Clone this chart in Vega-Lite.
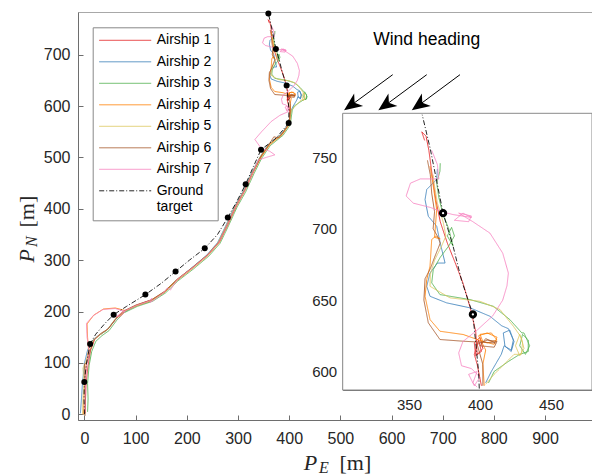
{
"$schema": "https://vega.github.io/schema/vega-lite/v6.json",
"width": 514, "height": 408,
"autosize": {"type": "none"},
"padding": {"left": 78, "top": 12, "right": 0, "bottom": 56},
"background": "white",
"config": {"view": {"stroke": "#a8a8a8", "strokeWidth": 1}, "font": "Liberation Sans"},
"datasets": {
"traj": [
{"s":"Airship 1","x":1,"y":2},{"s":"Airship 1","x":2,"y":30},{"s":"Airship 1","x":3,"y":60},{"s":"Airship 1","x":7,"y":95},{"s":"Airship 1","x":12,"y":125},{"s":"Airship 1","x":20,"y":146},{"s":"Airship 1","x":32,"y":156},{"s":"Airship 1","x":47,"y":167},{"s":"Airship 1","x":62,"y":186},{"s":"Airship 1","x":78,"y":201},{"s":"Airship 1","x":103,"y":213},{"s":"Airship 1","x":132,"y":223},{"s":"Airship 1","x":157,"y":239},{"s":"Airship 1","x":182,"y":262},{"s":"Airship 1","x":212,"y":286},{"s":"Airship 1","x":242,"y":311},{"s":"Airship 1","x":264,"y":336},{"s":"Airship 1","x":280,"y":369},{"s":"Airship 1","x":297,"y":406},{"s":"Airship 1","x":313,"y":436},{"s":"Airship 1","x":329,"y":471},{"s":"Airship 1","x":345,"y":501},{"s":"Airship 1","x":362,"y":526},{"s":"Airship 1","x":387,"y":546},{"s":"Airship 1","x":401,"y":566},{"s":"Airship 1","x":401,"y":590},{"s":"Airship 1","x":398,"y":605},{"s":"Airship 1","x":396,"y":612},{"s":"Airship 1","x":399,"y":622},{"s":"Airship 1","x":401,"y":614},{"s":"Airship 1","x":397,"y":611},{"s":"Airship 1","x":396,"y":620},{"s":"Airship 1","x":400,"y":624},{"s":"Airship 1","x":402,"y":616},{"s":"Airship 1","x":398,"y":612},{"s":"Airship 1","x":397,"y":628},{"s":"Airship 1","x":393,"y":645},{"s":"Airship 1","x":388,"y":662},{"s":"Airship 1","x":383,"y":675},{"s":"Airship 1","x":377,"y":690},{"s":"Airship 1","x":372,"y":705},{"s":"Airship 1","x":369,"y":720},{"s":"Airship 1","x":366,"y":740},{"s":"Airship 1","x":364,"y":755},{"s":"Airship 1","x":362,"y":765},{"s":"Airship 1","x":359,"y":768},{"s":"Airship 1","x":361,"y":762},
{"s":"Airship 2","x":-8,"y":2},{"s":"Airship 2","x":-6,"y":30},{"s":"Airship 2","x":-4,"y":60},{"s":"Airship 2","x":0,"y":100},{"s":"Airship 2","x":6,"y":125},{"s":"Airship 2","x":15,"y":143},{"s":"Airship 2","x":27,"y":153},{"s":"Airship 2","x":43,"y":163},{"s":"Airship 2","x":58,"y":182},{"s":"Airship 2","x":74,"y":197},{"s":"Airship 2","x":98,"y":210},{"s":"Airship 2","x":128,"y":220},{"s":"Airship 2","x":154,"y":236},{"s":"Airship 2","x":179,"y":260},{"s":"Airship 2","x":208,"y":284},{"s":"Airship 2","x":238,"y":309},{"s":"Airship 2","x":260,"y":334},{"s":"Airship 2","x":276,"y":367},{"s":"Airship 2","x":293,"y":404},{"s":"Airship 2","x":310,"y":434},{"s":"Airship 2","x":326,"y":469},{"s":"Airship 2","x":342,"y":499},{"s":"Airship 2","x":358,"y":524},{"s":"Airship 2","x":383,"y":544},{"s":"Airship 2","x":399,"y":565},{"s":"Airship 2","x":404,"y":592},{"s":"Airship 2","x":408,"y":600},{"s":"Airship 2","x":415,"y":612},{"s":"Airship 2","x":417,"y":618},{"s":"Airship 2","x":422,"y":615},{"s":"Airship 2","x":423.5,"y":622},{"s":"Airship 2","x":421,"y":629},{"s":"Airship 2","x":416.4,"y":627},{"s":"Airship 2","x":417.6,"y":617.7},{"s":"Airship 2","x":422,"y":614},{"s":"Airship 2","x":424,"y":621},{"s":"Airship 2","x":420,"y":630},{"s":"Airship 2","x":415.3,"y":632},{"s":"Airship 2","x":407,"y":638.7},{"s":"Airship 2","x":393,"y":644.6},{"s":"Airship 2","x":376.5,"y":648.1},{"s":"Airship 2","x":364.8,"y":652.7},{"s":"Airship 2","x":362.5,"y":659.7},{"s":"Airship 2","x":364.8,"y":669},{"s":"Airship 2","x":370,"y":676},{"s":"Airship 2","x":375.4,"y":676},{"s":"Airship 2","x":374.2,"y":681},{"s":"Airship 2","x":372,"y":690},{"s":"Airship 2","x":369.5,"y":701.8},{"s":"Airship 2","x":363.6,"y":708.8},{"s":"Airship 2","x":361.3,"y":720.5},{"s":"Airship 2","x":362.5,"y":727.6},{"s":"Airship 2","x":369.5,"y":734.6},{"s":"Airship 2","x":370,"y":742},
{"s":"Airship 3","x":6,"y":5},{"s":"Airship 3","x":7,"y":30},{"s":"Airship 3","x":6,"y":60},{"s":"Airship 3","x":9,"y":95},{"s":"Airship 3","x":14,"y":122},{"s":"Airship 3","x":22,"y":142},{"s":"Airship 3","x":34,"y":153},{"s":"Airship 3","x":48,"y":163},{"s":"Airship 3","x":63,"y":183},{"s":"Airship 3","x":78,"y":198},{"s":"Airship 3","x":103,"y":210},{"s":"Airship 3","x":133,"y":220},{"s":"Airship 3","x":158,"y":236},{"s":"Airship 3","x":183,"y":260},{"s":"Airship 3","x":213,"y":283},{"s":"Airship 3","x":243,"y":308},{"s":"Airship 3","x":265,"y":333},{"s":"Airship 3","x":281,"y":366},{"s":"Airship 3","x":298,"y":403},{"s":"Airship 3","x":315,"y":433},{"s":"Airship 3","x":331,"y":468},{"s":"Airship 3","x":346,"y":498},{"s":"Airship 3","x":363,"y":523},{"s":"Airship 3","x":388,"y":543},{"s":"Airship 3","x":402,"y":563},{"s":"Airship 3","x":406,"y":592},{"s":"Airship 3","x":410,"y":600},{"s":"Airship 3","x":420,"y":607},{"s":"Airship 3","x":428,"y":612},{"s":"Airship 3","x":434,"y":614},{"s":"Airship 3","x":434,"y":622},{"s":"Airship 3","x":430,"y":626},{"s":"Airship 3","x":428,"y":618},{"s":"Airship 3","x":432,"y":612},{"s":"Airship 3","x":435,"y":618},{"s":"Airship 3","x":431,"y":627},{"s":"Airship 3","x":429.4,"y":627.1},{"s":"Airship 3","x":421,"y":636.4},{"s":"Airship 3","x":409.4,"y":645.7},{"s":"Airship 3","x":393,"y":650.4},{"s":"Airship 3","x":371.8,"y":653.9},{"s":"Airship 3","x":366,"y":662.1},{"s":"Airship 3","x":367.1,"y":671.5},{"s":"Airship 3","x":372,"y":680},{"s":"Airship 3","x":378,"y":688},{"s":"Airship 3","x":382,"y":695},{"s":"Airship 3","x":380,"y":701},{"s":"Airship 3","x":377,"y":695},{"s":"Airship 3","x":381,"y":688},{"s":"Airship 3","x":378,"y":700},{"s":"Airship 3","x":374,"y":710},{"s":"Airship 3","x":371,"y":722},{"s":"Airship 3","x":369.5,"y":732.2},{"s":"Airship 3","x":371.8,"y":740.4},{"s":"Airship 3","x":372,"y":746},
{"s":"Airship 4","x":-2,"y":0},{"s":"Airship 4","x":-1,"y":30},{"s":"Airship 4","x":1,"y":60},{"s":"Airship 4","x":3,"y":95},{"s":"Airship 4","x":8,"y":125},{"s":"Airship 4","x":6,"y":150},{"s":"Airship 4","x":5,"y":176},{"s":"Airship 4","x":18,"y":193},{"s":"Airship 4","x":37,"y":205},{"s":"Airship 4","x":60,"y":207},{"s":"Airship 4","x":80,"y":202},{"s":"Airship 4","x":72,"y":193},{"s":"Airship 4","x":62,"y":188},{"s":"Airship 4","x":76,"y":200},{"s":"Airship 4","x":101,"y":211},{"s":"Airship 4","x":130,"y":221},{"s":"Airship 4","x":156,"y":237},{"s":"Airship 4","x":181,"y":261},{"s":"Airship 4","x":211,"y":284},{"s":"Airship 4","x":241,"y":309},{"s":"Airship 4","x":263,"y":334},{"s":"Airship 4","x":279,"y":367},{"s":"Airship 4","x":296,"y":404},{"s":"Airship 4","x":313,"y":434},{"s":"Airship 4","x":329,"y":469},{"s":"Airship 4","x":344,"y":499},{"s":"Airship 4","x":361,"y":524},{"s":"Airship 4","x":386,"y":544},{"s":"Airship 4","x":400,"y":564},{"s":"Airship 4","x":403,"y":590},{"s":"Airship 4","x":402,"y":605},{"s":"Airship 4","x":404,"y":615},{"s":"Airship 4","x":399,"y":625},{"s":"Airship 4","x":405,"y":627},{"s":"Airship 4","x":412,"y":624},{"s":"Airship 4","x":410,"y":619},{"s":"Airship 4","x":402,"y":621},{"s":"Airship 4","x":400,"y":626},{"s":"Airship 4","x":408,"y":627},{"s":"Airship 4","x":412,"y":622},{"s":"Airship 4","x":405,"y":620},{"s":"Airship 4","x":388.2,"y":625.9},{"s":"Airship 4","x":371.8,"y":628.2},{"s":"Airship 4","x":364.8,"y":636.4},{"s":"Airship 4","x":361.3,"y":652.7},{"s":"Airship 4","x":362.5,"y":664.4},{"s":"Airship 4","x":364.8,"y":673.8},{"s":"Airship 4","x":366,"y":692.5},{"s":"Airship 4","x":369,"y":695},{"s":"Airship 4","x":372,"y":693},{"s":"Airship 4","x":368,"y":694},{"s":"Airship 4","x":369.5,"y":713.5},{"s":"Airship 4","x":367.1,"y":729.9},{"s":"Airship 4","x":366,"y":736.9},{"s":"Airship 4","x":364.8,"y":743.9},
{"s":"Airship 5","x":-4,"y":0},{"s":"Airship 5","x":-3,"y":30},{"s":"Airship 5","x":-1,"y":60},{"s":"Airship 5","x":-3,"y":90},{"s":"Airship 5","x":2,"y":100},{"s":"Airship 5","x":9,"y":124},{"s":"Airship 5","x":17,"y":144},{"s":"Airship 5","x":29,"y":154},{"s":"Airship 5","x":44,"y":164},{"s":"Airship 5","x":59,"y":184},{"s":"Airship 5","x":74,"y":199},{"s":"Airship 5","x":99,"y":211},{"s":"Airship 5","x":129,"y":221},{"s":"Airship 5","x":154,"y":237},{"s":"Airship 5","x":179,"y":261},{"s":"Airship 5","x":209,"y":284},{"s":"Airship 5","x":239,"y":309},{"s":"Airship 5","x":261,"y":334},{"s":"Airship 5","x":277,"y":367},{"s":"Airship 5","x":294,"y":404},{"s":"Airship 5","x":311,"y":434},{"s":"Airship 5","x":327,"y":469},{"s":"Airship 5","x":342,"y":499},{"s":"Airship 5","x":359,"y":524},{"s":"Airship 5","x":384,"y":544},{"s":"Airship 5","x":399,"y":564},{"s":"Airship 5","x":404,"y":591},{"s":"Airship 5","x":410,"y":598},{"s":"Airship 5","x":418,"y":606},{"s":"Airship 5","x":424,"y":612},{"s":"Airship 5","x":429,"y":612},{"s":"Airship 5","x":430,"y":620},{"s":"Airship 5","x":428,"y":626},{"s":"Airship 5","x":425,"y":618},{"s":"Airship 5","x":428,"y":611},{"s":"Airship 5","x":431,"y":616},{"s":"Airship 5","x":429,"y":624},{"s":"Airship 5","x":423.5,"y":631.7},{"s":"Airship 5","x":414.1,"y":643.4},{"s":"Airship 5","x":400,"y":649.2},{"s":"Airship 5","x":378.9,"y":651.6},{"s":"Airship 5","x":364.8,"y":659.7},{"s":"Airship 5","x":365,"y":668},{"s":"Airship 5","x":368,"y":678},{"s":"Airship 5","x":373,"y":688},{"s":"Airship 5","x":376,"y":695},{"s":"Airship 5","x":374,"y":705},{"s":"Airship 5","x":370,"y":718},{"s":"Airship 5","x":368,"y":730},{"s":"Airship 5","x":367,"y":738},
{"s":"Airship 6","x":1,"y":-3},{"s":"Airship 6","x":2,"y":30},{"s":"Airship 6","x":1,"y":60},{"s":"Airship 6","x":0,"y":98},{"s":"Airship 6","x":5,"y":100},{"s":"Airship 6","x":11,"y":124},{"s":"Airship 6","x":19,"y":146},{"s":"Airship 6","x":31,"y":157},{"s":"Airship 6","x":46,"y":166},{"s":"Airship 6","x":61,"y":186},{"s":"Airship 6","x":76,"y":201},{"s":"Airship 6","x":101,"y":213},{"s":"Airship 6","x":131,"y":223},{"s":"Airship 6","x":156,"y":239},{"s":"Airship 6","x":181,"y":263},{"s":"Airship 6","x":211,"y":286},{"s":"Airship 6","x":241,"y":311},{"s":"Airship 6","x":263,"y":336},{"s":"Airship 6","x":279,"y":369},{"s":"Airship 6","x":296,"y":406},{"s":"Airship 6","x":313,"y":436},{"s":"Airship 6","x":329,"y":471},{"s":"Airship 6","x":344,"y":501},{"s":"Airship 6","x":361,"y":526},{"s":"Airship 6","x":370,"y":540},{"s":"Airship 6","x":380,"y":538},{"s":"Airship 6","x":386,"y":546},{"s":"Airship 6","x":400,"y":566},{"s":"Airship 6","x":402,"y":590},{"s":"Airship 6","x":402,"y":605},{"s":"Airship 6","x":398,"y":619},{"s":"Airship 6","x":405,"y":622},{"s":"Airship 6","x":412,"y":621},{"s":"Airship 6","x":410,"y":617},{"s":"Airship 6","x":400,"y":618},{"s":"Airship 6","x":404,"y":623},{"s":"Airship 6","x":411,"y":620},{"s":"Airship 6","x":388.2,"y":621.2},{"s":"Airship 6","x":371.8,"y":622.4},{"s":"Airship 6","x":363.6,"y":634.1},{"s":"Airship 6","x":360.5,"y":650},{"s":"Airship 6","x":361.3,"y":665},{"s":"Airship 6","x":365,"y":672},{"s":"Airship 6","x":368,"y":680},{"s":"Airship 6","x":372,"y":690},{"s":"Airship 6","x":370,"y":695},{"s":"Airship 6","x":367,"y":700},{"s":"Airship 6","x":368,"y":712},{"s":"Airship 6","x":366,"y":725},{"s":"Airship 6","x":365,"y":738},{"s":"Airship 6","x":363,"y":748},
{"s":"Airship 7","x":1,"y":5},{"s":"Airship 7","x":1,"y":30},{"s":"Airship 7","x":2,"y":60},{"s":"Airship 7","x":4,"y":95},{"s":"Airship 7","x":9,"y":125},{"s":"Airship 7","x":5,"y":150},{"s":"Airship 7","x":4,"y":177},{"s":"Airship 7","x":17,"y":192},{"s":"Airship 7","x":36,"y":204},{"s":"Airship 7","x":60,"y":206},{"s":"Airship 7","x":79,"y":200},{"s":"Airship 7","x":72,"y":192},{"s":"Airship 7","x":62,"y":190},{"s":"Airship 7","x":77,"y":201},{"s":"Airship 7","x":102,"y":212},{"s":"Airship 7","x":125,"y":220},{"s":"Airship 7","x":132,"y":226},{"s":"Airship 7","x":128,"y":218},{"s":"Airship 7","x":135,"y":222},{"s":"Airship 7","x":156,"y":238},{"s":"Airship 7","x":162,"y":246},{"s":"Airship 7","x":168,"y":242},{"s":"Airship 7","x":181,"y":262},{"s":"Airship 7","x":211,"y":285},{"s":"Airship 7","x":241,"y":310},{"s":"Airship 7","x":263,"y":335},{"s":"Airship 7","x":279,"y":368},{"s":"Airship 7","x":296,"y":405},{"s":"Airship 7","x":313,"y":435},{"s":"Airship 7","x":329,"y":470},{"s":"Airship 7","x":340,"y":495},{"s":"Airship 7","x":355,"y":500},{"s":"Airship 7","x":372,"y":505},{"s":"Airship 7","x":362,"y":512},{"s":"Airship 7","x":345,"y":518},{"s":"Airship 7","x":333,"y":535},{"s":"Airship 7","x":346,"y":550},{"s":"Airship 7","x":365,"y":570},{"s":"Airship 7","x":382,"y":582},{"s":"Airship 7","x":398,"y":589},{"s":"Airship 7","x":395,"y":592},{"s":"Airship 7","x":398,"y":600},{"s":"Airship 7","x":392,"y":598},{"s":"Airship 7","x":396,"y":590},{"s":"Airship 7","x":400,"y":596},{"s":"Airship 7","x":394,"y":602},{"s":"Airship 7","x":387,"y":604},{"s":"Airship 7","x":385,"y":613},{"s":"Airship 7","x":388,"y":621},{"s":"Airship 7","x":398,"y":629},{"s":"Airship 7","x":409,"y":639},{"s":"Airship 7","x":416,"y":650},{"s":"Airship 7","x":419,"y":660},{"s":"Airship 7","x":420,"y":669},{"s":"Airship 7","x":416,"y":683},{"s":"Airship 7","x":407,"y":697},{"s":"Airship 7","x":395,"y":705},{"s":"Airship 7","x":385,"y":711},{"s":"Airship 7","x":394,"y":709},{"s":"Airship 7","x":392,"y":705},{"s":"Airship 7","x":382,"y":706},{"s":"Airship 7","x":388,"y":711},{"s":"Airship 7","x":394,"y":708},{"s":"Airship 7","x":381,"y":710},{"s":"Airship 7","x":373,"y":712},{"s":"Airship 7","x":365,"y":715},{"s":"Airship 7","x":353,"y":718},{"s":"Airship 7","x":348,"y":723},{"s":"Airship 7","x":351,"y":732},{"s":"Airship 7","x":358,"y":735},{"s":"Airship 7","x":371,"y":735},{"s":"Airship 7","x":370,"y":745},{"s":"Airship 7","x":366,"y":755},
{"s":"Ground target","x":0,"y":0},{"s":"Ground target","x":-1,"y":30},{"s":"Ground target","x":-0.4,"y":63},{"s":"Ground target","x":4,"y":100},{"s":"Ground target","x":11,"y":137},{"s":"Ground target","x":22,"y":156},{"s":"Ground target","x":40,"y":177},{"s":"Ground target","x":57,"y":194},{"s":"Ground target","x":82,"y":210},{"s":"Ground target","x":119,"y":233},{"s":"Ground target","x":150,"y":255},{"s":"Ground target","x":178,"y":278},{"s":"Ground target","x":205,"y":300},{"s":"Ground target","x":235,"y":323},{"s":"Ground target","x":260,"y":350},{"s":"Ground target","x":280,"y":383},{"s":"Ground target","x":298,"y":415},{"s":"Ground target","x":315,"y":448},{"s":"Ground target","x":330,"y":482},{"s":"Ground target","x":345,"y":515},{"s":"Ground target","x":375,"y":538},{"s":"Ground target","x":399,"y":567},{"s":"Ground target","x":399.5,"y":588},{"s":"Ground target","x":399,"y":600},{"s":"Ground target","x":395,"y":640},{"s":"Ground target","x":387,"y":664},{"s":"Ground target","x":381,"y":688},{"s":"Ground target","x":374,"y":711},{"s":"Ground target","x":365,"y":756},{"s":"Ground target","x":359.3,"y":780}
],
"dots": [
{"x":-0.4,"y":63},{"x":11,"y":137},{"x":57,"y":194},{"x":119,"y":233},{"x":178,"y":278},{"x":235,"y":323},{"x":280,"y":383},{"x":315,"y":448},{"x":345,"y":515},{"x":399,"y":567},{"x":395,"y":640},{"x":374,"y":711},{"x":359.3,"y":780}
],
"arrows": [
{"x":602.3,"y":661,"x2":521.5,"y2":601.9},
{"x":668.8,"y":661,"x2":588.5,"y2":601.9},
{"x":733.8,"y":661,"x2":653.8,"y2":601.9}
],
"notes": [{"x":668.8,"y":729,"label":"Wind heading"}],
"frame": [{"x1":303.3,"x2":478.9,"y1":587,"y2":781}]
},
"layer": [
{
"layer": [
{
"data": {"name": "traj"},
"mark": {"type": "line", "strokeWidth": 1, "opacity": 0.85, "clip": false},
"encoding": {
"x": {"field": "x", "type": "quantitative", "scale": {"domain": [-12.7, 991.8], "nice": false, "zero": false},
 "axis": {"orient": "bottom", "values": [0,100,200,300,400,500,600,700,800,900], "grid": false, "labelFontSize": 16, "labelColor": "#262626", "labelFont": "Liberation Sans", "domainColor": "#6e6e6e", "tickColor": "#6e6e6e", "tickSize": -5, "labelPadding": 15, "labelFlush": false, "labelOverlap": false,
  "title": "P", "titleFont": "Liberation Serif", "titleFontStyle": "italic", "titleFontWeight": "normal", "titleFontSize": 22, "titleColor": "#262626", "titleX": 225.3, "titleY": 49.5, "titleAlign": "left", "titleBaseline": "alphabetic", "titleAngle": 0}},
"y": {"field": "y", "type": "quantitative", "scale": {"domain": [-11, 783], "nice": false, "zero": false},
 "axis": {"orient": "left", "values": [0,100,200,300,400,500,600,700], "grid": false, "labelFontSize": 16, "labelColor": "#262626", "labelFont": "Liberation Sans", "domainColor": "#6e6e6e", "tickColor": "#6e6e6e", "tickSize": -5, "labelPadding": 13, "labelFlush": false, "labelOverlap": false,
  "title": "P", "titleFont": "Liberation Serif", "titleFontStyle": "italic", "titleFontWeight": "normal", "titleFontSize": 22, "titleColor": "#262626", "titleX": -45, "titleY": 250, "titleAlign": "left", "titleBaseline": "alphabetic", "titleAngle": -90}},
"color": {"field": "s", "type": "nominal",
 "scale": {"domain": ["Airship 1","Airship 2","Airship 3","Airship 4","Airship 5","Airship 6","Airship 7","Ground target"], "range": ["#e41a1c","#377eb8","#4daf4a","#ff7f00","#dcc65a","#a65628","#f781bf","#000000"]},
 "legend": {"orient": "none", "legendX": 14.7, "legendY": 15.3, "title": null, "symbolType": "stroke", "symbolSize": 2704, "symbolStrokeWidth": 1, "symbolOpacity": 0.55, "clipHeight": 14, "rowPadding": 7.5, "labelFontSize": 14, "labelFont": "Liberation Sans", "labelColor": "#000000", "labelOffset": 5, "padding": 6, "strokeColor": "#888888", "fillColor": "white", "labelLimit": 200,
  "labelExpr": "datum.label == 'Ground target' ? ['Ground', 'target'] : datum.label"}},
"strokeDash": {"field": "s", "type": "nominal",
 "scale": {"domain": ["Airship 1","Airship 2","Airship 3","Airship 4","Airship 5","Airship 6","Airship 7","Ground target"], "range": [[1,0],[1,0],[1,0],[1,0],[1,0],[1,0],[1,0],[5,2,1,2]]},
 "legend": {"orient": "none", "legendX": 14.7, "legendY": 15.3, "title": null, "symbolType": "stroke", "symbolSize": 2704, "symbolStrokeWidth": 1, "symbolOpacity": 0.55, "clipHeight": 14, "rowPadding": 7.5, "labelFontSize": 14, "labelFont": "Liberation Sans", "labelColor": "#000000", "labelOffset": 5, "padding": 6, "strokeColor": "#888888", "fillColor": "white", "labelLimit": 200,
  "labelExpr": "datum.label == 'Ground target' ? ['Ground', 'target'] : datum.label"}},
"order": {"value": null}
}
},
{
"data": {"name": "dots"},
"mark": {"type": "circle", "color": "black", "size": 36, "opacity": 1},
"encoding": {
"x": {"field": "x", "type": "quantitative", "scale": {"domain": [-12.7, 991.8], "nice": false, "zero": false},
 "axis": {"orient": "bottom", "labels": false, "ticks": false, "domain": false, "grid": false, "title": "E", "titleFont": "Liberation Serif", "titleFontStyle": "italic", "titleFontWeight": "normal", "titleFontSize": 16, "titleColor": "#262626", "titleX": 240.5, "titleY": 52, "titleAlign": "left", "titleBaseline": "alphabetic", "titleAngle": 0}},
"y": {"field": "y", "type": "quantitative", "scale": {"domain": [-11, 783], "nice": false, "zero": false},
 "axis": {"orient": "left", "labels": false, "ticks": false, "domain": false, "grid": false, "title": "N", "titleFont": "Liberation Serif", "titleFontStyle": "italic", "titleFontWeight": "normal", "titleFontSize": 16, "titleColor": "#262626", "titleX": -41.5, "titleY": 234.5, "titleAlign": "left", "titleBaseline": "alphabetic", "titleAngle": -90}}
}
},
{
"data": {"name": "arrows"},
"mark": {"type": "rule", "color": "black", "strokeWidth": 1},
"encoding": {
"x": {"field": "x", "type": "quantitative", "scale": {"domain": [-12.7, 991.8], "nice": false, "zero": false},
 "axis": {"orient": "bottom", "labels": false, "ticks": false, "domain": false, "grid": false, "title": "[m]", "titleFont": "Liberation Serif", "titleFontWeight": "normal", "titleFontSize": 22, "titleColor": "#262626", "titleX": 261, "titleY": 49.5, "titleAlign": "left", "titleBaseline": "alphabetic", "titleAngle": 0}},
"y": {"field": "y", "type": "quantitative", "scale": {"domain": [-11, 783], "nice": false, "zero": false},
 "axis": {"orient": "left", "labels": false, "ticks": false, "domain": false, "grid": false, "title": "[m]", "titleFont": "Liberation Serif", "titleFontWeight": "normal", "titleFontSize": 22, "titleColor": "#262626", "titleX": -45, "titleY": 215, "titleAlign": "left", "titleBaseline": "alphabetic", "titleAngle": -90}},
"x2": {"field": "x2"},
"y2": {"field": "y2"}
}
},
{
"data": {"name": "arrows"},
"mark": {"type": "point", "shape": "M0,-1L0.85,1L0,0.45L-0.85,1Z", "filled": true, "color": "black", "opacity": 1, "size": 324, "angle": 234},
"encoding": {
"x": {"field": "x2", "type": "quantitative", "scale": {"domain": [-12.7, 991.8], "nice": false, "zero": false}, "axis": null},
"y": {"field": "y2", "type": "quantitative", "scale": {"domain": [-11, 783], "nice": false, "zero": false}, "axis": null}
}
},
{
"data": {"name": "notes"},
"mark": {"type": "text", "fontSize": 17.5, "font": "Liberation Sans", "color": "black", "align": "center", "baseline": "middle"},
"encoding": {
"x": {"field": "x", "type": "quantitative", "scale": {"domain": [-12.7, 991.8], "nice": false, "zero": false}, "axis": null},
"y": {"field": "y", "type": "quantitative", "scale": {"domain": [-11, 783], "nice": false, "zero": false}, "axis": null},
"text": {"field": "label"}
}
}
],
"resolve": {"axis": {"x": "independent", "y": "independent"}}
},
{
"layer": [
{
"data": {"name": "frame"},
"mark": {"type": "rect", "fill": "white", "stroke": "#8a8a8a", "strokeWidth": 1},
"encoding": {
"x": {"field": "x1", "type": "quantitative", "scale": {"domain": [303.3, 478.9], "range": [264.7, 514], "nice": false, "zero": false},
 "axis": {"orient": "bottom", "offset": -30, "values": [350,400,450], "grid": false, "title": null, "labelFontSize": 15, "labelColor": "#262626", "labelFont": "Liberation Sans", "domainColor": "#6e6e6e", "tickColor": "#6e6e6e", "tickSize": -4, "labelPadding": 11, "labelFlush": false}},
"x2": {"field": "x2"},
"y": {"field": "y1", "type": "quantitative", "scale": {"domain": [587, 781], "range": [378, 101.3], "nice": false, "zero": false},
 "axis": {"orient": "left", "offset": -264.7, "values": [600,650,700,750], "grid": false, "title": null, "labelFontSize": 15, "labelColor": "#262626", "labelFont": "Liberation Sans", "domainColor": "#6e6e6e", "tickColor": "#6e6e6e", "tickSize": -4, "labelPadding": 10, "labelFlush": false}},
"y2": {"field": "y2"}
}
},
{
"data": {"name": "traj"},
"transform": [{"filter": "datum.x >= 303.3 && datum.x <= 478.9 && datum.y >= 587 && datum.y <= 781"}],
"mark": {"type": "line", "strokeWidth": 1, "opacity": 0.85},
"encoding": {
"x": {"field": "x", "type": "quantitative"},
"y": {"field": "y", "type": "quantitative"},
"color": {"field": "s", "type": "nominal"},
"strokeDash": {"field": "s", "type": "nominal"},
"order": {"value": null}
}
},
{
"data": {"name": "dots"},
"transform": [{"filter": "datum.x >= 303.3 && datum.x <= 478.9 && datum.y >= 590 && datum.y <= 770"}],
"mark": {"type": "circle", "fill": "white", "stroke": "black", "strokeWidth": 3, "size": 28, "opacity": 1},
"encoding": {
"x": {"field": "x", "type": "quantitative"},
"y": {"field": "y", "type": "quantitative"}
}
}
]
}
],
"resolve": {"scale": {"x": "independent", "y": "independent"}}
}
